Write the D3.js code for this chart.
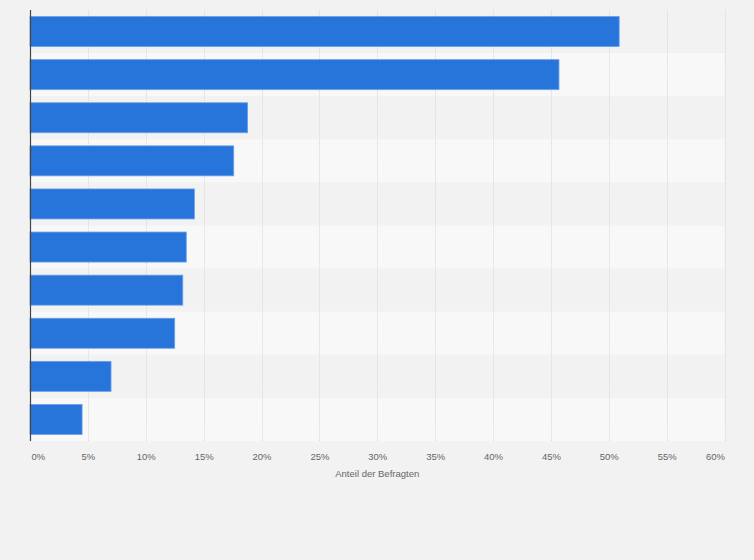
<!DOCTYPE html>
<html><head><meta charset="utf-8">
<script src="https://cdn.jsdelivr.net/npm/d3@7"></script>
<style>
html,body{margin:0;padding:0;background:#f2f2f2;}
svg{display:block;font-family:"Liberation Sans",Arial,sans-serif;}
</style></head>
<body><svg id="c" width="754" height="560"></svg>
<script>
const categories = ["1","2","3","4","5","6","7","8","9","10"];
const values = [50.9, 45.7, 18.8, 17.6, 14.2, 13.5, 13.2, 12.5, 7.0, 4.5];
const tickValues = [0,5,10,15,20,25,30,35,40,45,50,55,60];
const axisTitle = "Anteil der Befragten";

const svg = d3.select("#c");
const m = {left:30, right:29.5, top:10, bottom:119};
const W = 754, H = 560;
const x = d3.scaleLinear().domain([0,60]).range([m.left, W - m.right]);
const y = d3.scaleBand().domain(categories).range([m.top, H - m.bottom]).paddingInner(0).paddingOuter(0);

svg.append("rect").attr("width",W).attr("height",H).attr("fill","#f2f2f2");

// stripes
svg.append("g").selectAll("rect").data(categories).join("rect")
  .attr("x", x(0)).attr("width", x(60)-x(0))
  .attr("y", d=>y(d)).attr("height", y.bandwidth())
  .attr("fill", (d,i)=> i%2 ? "#f8f8f8" : "#f2f2f2");

// gridlines
svg.append("g").selectAll("line").data(tickValues.filter(t=>t>0)).join("line")
  .attr("x1", d=>Math.round(x(d))+0.5).attr("x2", d=>Math.round(x(d))+0.5)
  .attr("y1", m.top).attr("y2", H - m.bottom)
  .attr("stroke","#dcdcdc").attr("stroke-width",1).attr("stroke-dasharray","1.5,1");

// bars
const bh = 30;
svg.append("g").selectAll("rect").data(values).join("rect")
  .attr("x", x(0)).attr("y", (d,i)=> y(categories[i]) + (y.bandwidth()-bh)/2)
  .attr("width", d=> x(d)-x(0)).attr("height", bh)
  .attr("fill","#2775db").attr("stroke","#6aa0e8").attr("stroke-width",0.8);

// left axis line
svg.append("line").attr("x1",x(0)+0.5).attr("x2",x(0)+0.5)
  .attr("y1",m.top).attr("y2",H-m.bottom).attr("stroke","#444").attr("stroke-width",1.2);

// tick labels via axis
const ax = svg.append("g").attr("transform",`translate(0,${H-m.bottom})`)
  .call(d3.axisBottom(x).tickValues(tickValues).tickFormat(d=>d+"%").tickSize(0).tickPadding(12));
ax.select(".domain").remove();
ax.selectAll("text").attr("fill","#666").attr("font-size","9.5px")
  .attr("font-family","'Liberation Sans',Arial,sans-serif")
  .attr("text-anchor", d=> d===0 ? "start" : (d===60 ? "end" : "middle"))
  .attr("dx", d=> d===0 ? "1" : 0);

svg.append("text").attr("x", (x(0)+x(60))/2).attr("y", 477)
  .attr("text-anchor","middle").attr("fill","#666").attr("font-size","9.5px")
  .text(axisTitle);
</script></body></html>
